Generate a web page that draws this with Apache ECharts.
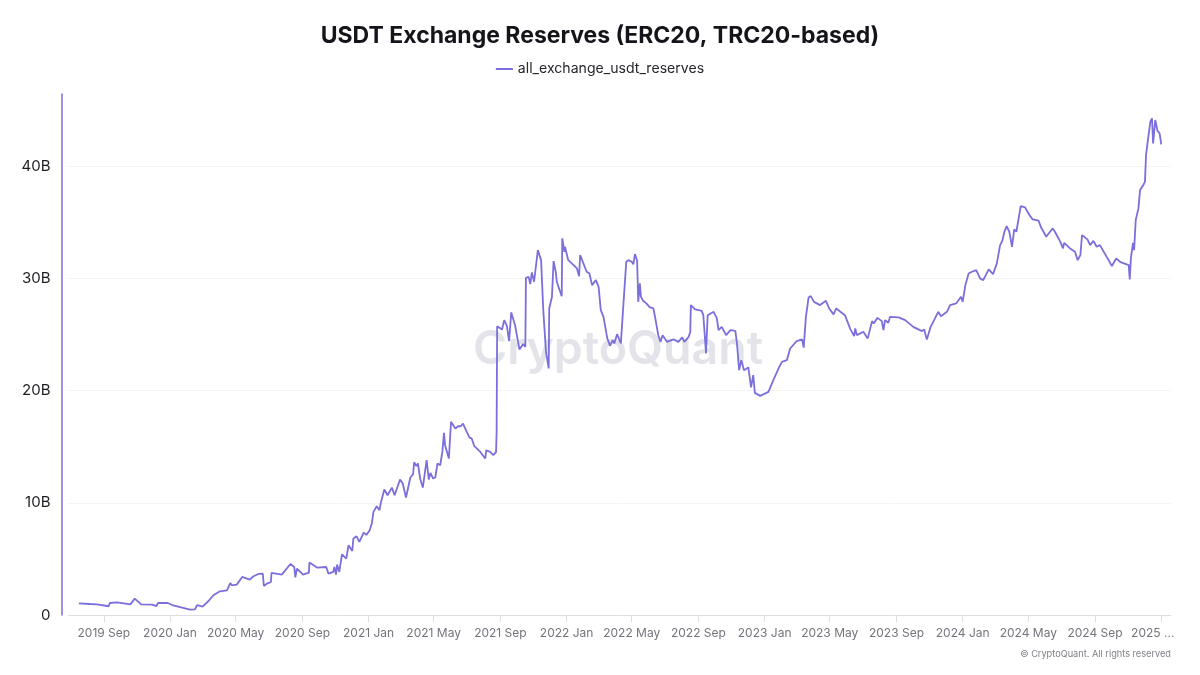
<!DOCTYPE html>
<html>
<head>
<meta charset="utf-8">
<title>USDT Exchange Reserves</title>
<style>
  html, body { margin: 0; padding: 0; background: #fff; }
  #chart { width: 1200px; height: 675px; }
</style>
<script src="https://cdn.jsdelivr.net/npm/echarts@6/dist/echarts.min.js"></script>
</head>
<body>
<div id="chart"></div>
<script>
// values in billions of USDT
var dates = [
  '2019-07-17','2019-08-07','2019-08-19','2019-09-10','2019-09-12','2019-09-25','2019-10-20','2019-10-28','2019-11-09','2019-11-29','2019-12-07','2019-12-10','2019-12-28',
  '2020-01-05','2020-02-07','2020-02-16','2020-02-20','2020-03-01','2020-03-12','2020-03-21','2020-04-02','2020-04-15','2020-04-21','2020-04-24','2020-05-03','2020-05-13','2020-05-27','2020-06-03','2020-06-12','2020-06-20','2020-06-22','2020-06-28','2020-07-05','2020-07-06','2020-07-25','2020-08-10','2020-08-17','2020-08-19','2020-08-22','2020-09-02','2020-09-13','2020-09-14','2020-09-28','2020-10-15','2020-10-19','2020-10-28','2020-10-30','2020-11-02','2020-11-04','2020-11-08','2020-11-11','2020-11-13','2020-11-21','2020-11-25','2020-12-02','2020-12-04','2020-12-10','2020-12-15','2020-12-23','2020-12-28',
  '2021-01-03','2021-01-07','2021-01-10','2021-01-16','2021-01-21','2021-01-24','2021-01-27','2021-01-30','2021-02-05','2021-02-13','2021-02-18','2021-02-28','2021-03-05','2021-03-11','2021-03-19','2021-03-24','2021-03-26','2021-03-30','2021-04-02','2021-04-06','2021-04-11','2021-04-18','2021-04-22','2021-04-25','2021-04-30','2021-05-04','2021-05-08','2021-05-13','2021-05-17','2021-05-20','2021-05-22','2021-05-25','2021-05-29','2021-06-02','2021-06-10','2021-06-15','2021-06-20','2021-06-24','2021-07-01','2021-07-06','2021-07-10','2021-07-15','2021-07-26','2021-08-04','2021-08-06','2021-08-13','2021-08-16','2021-08-19','2021-08-24','2021-08-25','2021-08-26','2021-09-04','2021-09-08','2021-09-13','2021-09-17','2021-09-21','2021-09-24','2021-09-28','2021-10-06','2021-10-13','2021-10-17','2021-10-18','2021-10-23','2021-10-26','2021-10-29','2021-11-02','2021-11-09','2021-11-15','2021-11-19','2021-11-24','2021-11-29','2021-11-30','2021-12-05','2021-12-08','2021-12-12','2021-12-14','2021-12-19','2021-12-23','2021-12-24','2021-12-28','2021-12-29',
  '2022-01-04','2022-01-14','2022-01-20','2022-01-24','2022-01-26','2022-01-29','2022-02-07','2022-02-12','2022-02-17','2022-02-24','2022-03-01','2022-03-05','2022-03-10','2022-03-17','2022-03-22','2022-03-27','2022-03-30','2022-04-04','2022-04-11','2022-04-16','2022-04-21','2022-04-25','2022-05-01','2022-05-04','2022-05-07','2022-05-11','2022-05-13','2022-05-16','2022-05-18','2022-05-22','2022-05-28','2022-06-03','2022-06-10','2022-06-13','2022-06-19','2022-06-23','2022-06-27','2022-07-05','2022-07-17','2022-07-26','2022-08-02','2022-08-06','2022-08-14','2022-08-17','2022-08-18','2022-08-26','2022-09-07','2022-09-10','2022-09-15','2022-09-18','2022-09-29','2022-10-05','2022-10-08','2022-10-14','2022-10-22','2022-10-30','2022-11-08','2022-11-11','2022-11-15','2022-11-19','2022-11-24','2022-12-02','2022-12-07','2022-12-11','2022-12-14','2022-12-24',
  '2023-01-08','2023-01-17','2023-01-28','2023-02-02','2023-02-11','2023-02-17','2023-03-01','2023-03-11','2023-03-14','2023-03-18','2023-03-23','2023-03-27','2023-04-02','2023-04-13','2023-04-24','2023-04-30','2023-05-08','2023-05-13','2023-05-29','2023-06-08','2023-06-15','2023-06-17','2023-06-20','2023-07-02','2023-07-10','2023-07-18','2023-07-21','2023-07-28','2023-08-05','2023-08-08','2023-08-11','2023-08-17','2023-08-20','2023-09-05','2023-09-17','2023-10-02','2023-10-18','2023-10-22','2023-10-27','2023-11-03','2023-11-11','2023-11-17','2023-11-22','2023-12-03','2023-12-09','2023-12-20','2023-12-29',
  '2024-01-01','2024-01-06','2024-01-12','2024-01-18','2024-01-26','2024-02-02','2024-02-08','2024-02-18','2024-02-26','2024-03-04','2024-03-10','2024-03-14','2024-03-18','2024-03-22','2024-03-27','2024-04-01','2024-04-05','2024-04-09','2024-04-17','2024-04-25','2024-05-03','2024-05-09','2024-05-20','2024-05-24','2024-06-03','2024-06-10','2024-06-15','2024-06-19','2024-06-29','2024-07-04','2024-07-06','2024-07-17','2024-07-26','2024-07-31','2024-08-05','2024-08-08','2024-08-18','2024-08-23','2024-08-29','2024-09-04','2024-09-10','2024-09-26','2024-10-02','2024-10-10','2024-10-17','2024-11-02','2024-11-04','2024-11-06','2024-11-10','2024-11-12','2024-11-15','2024-11-20','2024-11-23','2024-11-29','2024-12-02','2024-12-04','2024-12-07','2024-12-10','2024-12-12','2024-12-15','2024-12-17','2024-12-21','2024-12-25','2024-12-29',
  '2025-01-01'
];
var reserves = [
  1.04,0.98,0.95,0.78,1.07,1.13,0.95,1.46,0.95,0.93,0.80,1.07,1.07,
  0.89,0.48,0.51,0.87,0.75,1.25,1.76,2.11,2.20,2.85,2.65,2.71,3.39,3.16,3.45,3.66,3.69,2.59,2.80,2.94,3.75,3.60,4.55,4.28,3.36,4.14,3.60,3.78,4.67,4.23,4.28,3.69,3.84,4.28,3.60,4.50,3.84,3.75,5.41,5.03,6.22,5.71,6.82,7.02,6.51,7.35,7.14,
  7.56,8.15,9.19,9.70,9.34,10.08,10.14,11.19,10.68,11.36,10.68,12.08,11.72,10.47,12.26,12.55,13.62,13.27,13.51,12.17,11.36,13.80,12.08,12.67,12.17,12.26,13.51,13.35,14.54,16.24,15.14,15.14,13.95,17.22,16.63,16.83,16.83,17.07,16.32,15.82,15.74,15.05,14.54,13.95,14.69,14.54,14.69,14.25,14.54,16.32,25.75,25.46,26.29,25.75,24.42,26.98,26.98,25.84,23.68,24.15,23.91,30.06,30.15,29.50,30.54,29.71,32.53,31.64,27.18,23.46,21.98,27.33,28.37,31.55,30.60,29.71,28.97,28.43,33.58,32.38,32.83,
  31.64,31.20,30.90,30.21,32.09,32.24,30.60,30.45,29.41,29.86,29.26,27.18,26.58,24.66,24.00,24.50,24.21,25.04,24.21,27.92,31.49,31.64,31.49,31.26,32.18,31.58,27.92,29.56,28.37,28.01,27.78,27.45,27.33,26.58,24.95,24.35,24.95,24.35,24.57,24.35,24.75,24.35,24.80,25.25,27.63,27.24,27.12,26.73,23.32,26.73,27.03,26.44,25.40,25.69,24.95,25.40,25.33,24.21,21.83,22.72,21.83,22.07,20.29,21.38,19.80,19.54,
  19.89,20.94,22.12,22.57,22.72,23.76,24.42,24.57,23.84,26.53,28.31,28.43,27.92,27.63,28.01,27.33,26.80,27.33,26.73,25.49,24.86,25.55,24.95,25.25,24.66,26.20,25.99,26.49,26.20,25.40,26.29,26.05,26.58,26.53,26.29,25.69,25.31,25.46,24.57,25.69,26.44,27.03,26.64,27.03,27.63,27.78,28.37,
  27.92,29.41,30.45,30.60,30.75,30.01,29.86,30.81,30.39,31.35,32.98,33.34,34.17,34.67,34.17,32.83,34.38,34.17,36.46,36.34,35.66,35.27,35.15,34.61,33.72,34.17,34.47,34.17,33.27,32.68,33.18,32.68,32.38,31.64,32.09,33.87,33.49,32.98,33.36,32.83,32.98,31.64,31.11,31.79,31.49,31.20,29.92,31.79,33.18,32.53,35.21,36.25,37.89,38.33,38.63,41.01,42.19,42.19,43.98,44.28,42.05,44.13,43.18,42.94,
  41.96
];
var tickDates = ['2019-09-01','2020-01-01','2020-05-01','2020-09-01','2021-01-01','2021-05-01','2021-09-01','2022-01-01','2022-05-01','2022-09-01','2023-01-01','2023-05-01','2023-09-01','2024-01-01','2024-05-01','2024-09-01','2025-01-01'];
var tickLabels = ['2019 Sep','2020 Jan','2020 May','2020 Sep','2021 Jan','2021 May','2021 Sep','2022 Jan','2022 May','2022 Sep','2023 Jan','2023 May','2023 Sep','2024 Jan','2024 May','2024 Sep','2025 ...'];

var FONT = 'Inter, "Noto Sans", sans-serif';
var PURPLE = '#7a6fdb';

function toTime(d) { return +new Date(d + 'T00:00:00Z'); }

var tickTimes = tickDates.map(toTime);
var labelByTime = {};
tickTimes.forEach(function (t, i) { labelByTime[t] = tickLabels[i]; });

var chart = echarts.init(document.getElementById('chart'));
chart.setOption({
  animation: false,
  backgroundColor: '#fff',
  title: {
    text: 'USDT Exchange Reserves (ERC20, TRC20-based)',
    left: 'center',
    top: 20,
    textStyle: { fontFamily: FONT, fontSize: 23, fontWeight: 700, color: '#14141a' }
  },
  legend: {
    top: 57,
    left: 'center',
    icon: 'rect',
    itemWidth: 17,
    itemHeight: 2,
    itemGap: 5,
    textStyle: { fontFamily: FONT, fontSize: 14.1, color: '#26262c' },
    data: ['all_exchange_usdt_reserves']
  },
  grid: { left: 68, right: 29, top: 94, bottom: 60 },
  xAxis: {
    // value axis holding timestamps, customValues breaks on type time
    type: 'value',
    min: toTime('2019-06-27'),
    max: toTime('2025-01-19'),
    axisLine: { lineStyle: { color: '#dddde3', width: 1 } },
    axisTick: { customValues: tickTimes, length: 7, lineStyle: { color: '#dddde3' } },
    axisLabel: {
      customValues: tickTimes,
      margin: 12,
      fontFamily: FONT,
      fontSize: 12,
      color: '#74747c',
      formatter: function (v) {
        var text = labelByTime[v];
        // the cut off last label sits left of its tick
        return v === tickTimes[tickTimes.length - 1] ? '{last|' + text + '}' : text;
      },
      rich: {
        last: { fontFamily: FONT, fontSize: 12, color: '#74747c', padding: [0, 17, 0, 0] }
      }
    },
    splitLine: { show: false }
  },
  yAxis: {
    type: 'value',
    min: 0,
    max: 46.45,
    interval: 10,
    offset: 6.5,
    axisLine: { show: true, lineStyle: { color: PURPLE, width: 1.5 } },
    axisTick: { show: false },
    axisLabel: {
      margin: 11,
      showMaxLabel: false,
      fontFamily: FONT,
      fontSize: 15,
      color: '#1e1e24',
      formatter: function (v) { return v === 0 ? '0' : v + 'B'; }
    },
    splitLine: { show: true, showMinLine: false, showMaxLine: false, lineStyle: { color: '#f4f4f6', width: 1 } }
  },
  series: [{
    name: 'all_exchange_usdt_reserves',
    type: 'line',
    showSymbol: false,
    symbol: 'none',
    lineStyle: { color: PURPLE, width: 1.8 },
    itemStyle: { color: PURPLE },
    z: 5,
    data: dates.map(function (d, i) { return [toTime(d), reserves[i]]; })
  }],
  graphic: [
    {
      type: 'text',
      left: 473,
      top: 327,
      z: 0,
      silent: true,
      style: { text: 'CryptoQuant', fontFamily: FONT, fontSize: 46.5, fontWeight: 600, fill: '#e3e3ea' }
    },
    {
      type: 'text',
      right: 29,
      top: 650,
      silent: true,
      style: { text: '© CryptoQuant. All rights reserved', fontFamily: FONT, fontSize: 9.2, fill: '#7e7e86' }
    }
  ]
});
</script>
</body>
</html>
